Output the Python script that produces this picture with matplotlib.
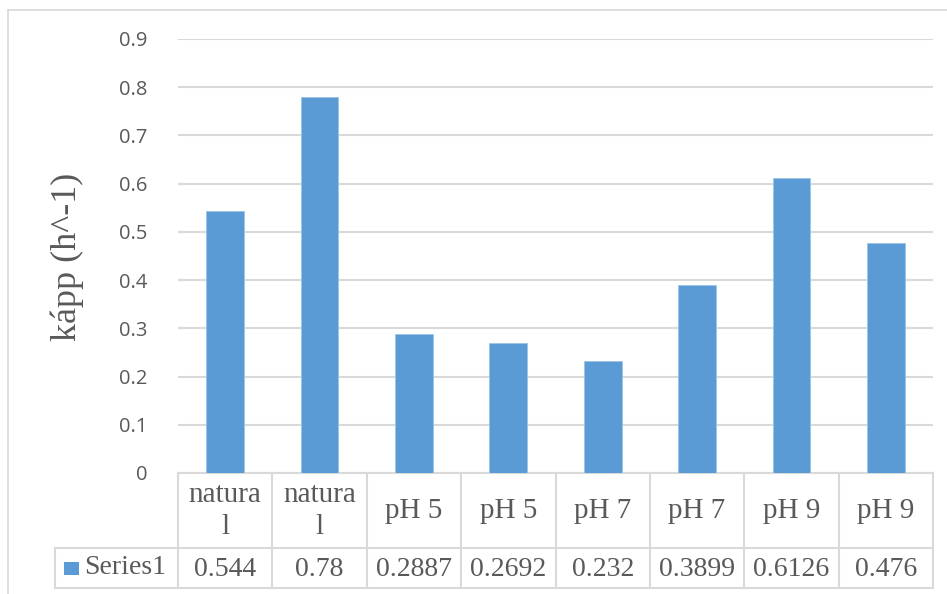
import matplotlib.pyplot as plt
from matplotlib.lines import Line2D
from matplotlib.patches import Rectangle

# rate constants for each sample
categories = ["natura\nl", "natura\nl", "pH 5", "pH 5", "pH 7", "pH 7", "pH 9", "pH 9"]
values = [0.544, 0.78, 0.2887, 0.2692, 0.232, 0.3899, 0.6126, 0.476]
value_labels = ["0.544", "0.78", "0.2887", "0.2692", "0.232", "0.3899", "0.6126", "0.476"]
yticks = [0, 0.1, 0.2, 0.3, 0.4, 0.5, 0.6, 0.7, 0.8, 0.9]
series_name = "Series1"

W, H = 947, 594
bar_color = "#5b9bd5"
grid_color = "#d9d9d9"
text_color = "#595959"
serif = ["Liberation Serif", "DejaVu Serif"]
sans = ["Open Sans", "DejaVu Sans"]

fig = plt.figure(figsize=(W / 100, H / 100), dpi=100)

# pixel helpers (origin top-left)
def fx(px):
    return px / W

def fy(py):
    return 1 - py / H

left, right, top, bottom = 178, 933, 39, 473
ax = fig.add_axes([fx(left), fy(bottom), fx(right) - fx(left), fy(top) - fy(bottom)])

x = range(len(values))
ax.bar(x, values, width=0.4, color=bar_color, edgecolor="#9cc3e6", linewidth=0.6, zorder=3)
ax.set_xlim(-0.5, len(values) - 0.5)
ax.set_ylim(0, 0.9)
ax.set_yticks(yticks)
ax.set_yticklabels([f"{t:g}" for t in yticks], fontsize=14.5, color=text_color, family=sans)
ax.tick_params(axis="y", length=0, pad=22)
ax.set_xticks([])
ax.yaxis.grid(True, color=grid_color, linewidth=1.5, zorder=0)
for s in ["top", "right", "left"]:
    ax.spines[s].set_visible(False)
ax.spines["bottom"].set_color(grid_color)
ax.spines["bottom"].set_linewidth(1.5)

# axis title, rotated, placed by hand
fig.text(fx(67), fy(257), "kápp (h^-1)", rotation=90, ha="center", va="center",
         fontsize=26, family=serif, color=text_color)

# data table under the axis
row_mid, row_bot = 548, 588
legend_left = 55
col_w = (right - left) / len(values)
lw = 1.5

def hline(y, x0, x1):
    fig.add_artist(Line2D([fx(x0), fx(x1)], [fy(y), fy(y)], color=grid_color, lw=lw))

def vline(xp, y0, y1):
    fig.add_artist(Line2D([fx(xp), fx(xp)], [fy(y0), fy(y1)], color=grid_color, lw=lw))

hline(row_mid, legend_left, right)
hline(row_bot, legend_left, right)
vline(legend_left, row_mid, row_bot)
for i in range(len(values) + 1):
    vline(left + i * col_w, bottom, row_bot)

for i, (cat, lab) in enumerate(zip(categories, value_labels)):
    cx = left + (i + 0.5) * col_w
    fig.text(fx(cx), fy((bottom + row_mid) / 2 + 1), cat, ha="center", va="center",
             fontsize=21, family=serif, color=text_color, linespacing=1.3)
    fig.text(fx(cx), fy((row_mid + row_bot) / 2 + 1), lab, ha="center", va="center",
             fontsize=20, family=serif, color=text_color)

# legend key in the table
fig.add_artist(Rectangle((fx(64), fy(575)), fx(79) - fx(64), fy(562) - fy(575),
                         facecolor=bar_color, edgecolor="none"))
fig.text(fx(84), fy(568), series_name, ha="left", va="center",
         fontsize=20, family=serif, color=text_color)

# chart border
fig.add_artist(Line2D([fx(8), fx(947)], [fy(10), fy(10)], color=grid_color, lw=1.2))
fig.add_artist(Line2D([fx(8), fx(8)], [fy(10), fy(594)], color=grid_color, lw=1.2))

fig.savefig("out.png", dpi=100, facecolor="white")
